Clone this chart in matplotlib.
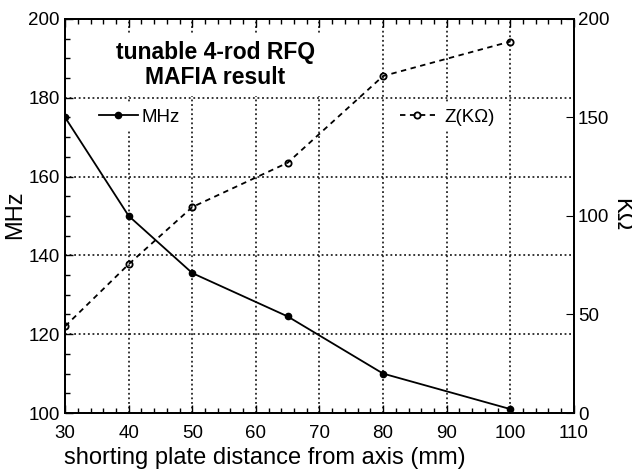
import numpy as np
import matplotlib
matplotlib.use('Agg')
import matplotlib.pyplot as plt
from matplotlib.ticker import MultipleLocator

plt.rcParams['font.family'] = ['Liberation Sans', 'DejaVu Sans']

distance = [30, 40, 50, 65, 80, 100]
freq_mhz = [175, 150, 135.5, 124.5, 110, 101]
z_kohm = [44, 75.5, 104.5, 127, 171, 188.5]

fig = plt.figure(figsize=(6.32, 4.72), dpi=100)
ax = fig.add_axes([0.103, 0.125, 0.805, 0.835])
ax2 = ax.twinx()

ax.plot(distance, freq_mhz, '-', color='black', lw=1.3,
        marker='o', ms=4.5, mfc='black', mec='black', label='MHz')
ax2.plot(distance, z_kohm, '--', color='black', lw=1.3, dashes=(3, 2.5),
         marker='o', ms=4.5, mfc='none', mec='black', mew=1.3, label='Z(KΩ)')

ax.set_xlim(30, 110)
ax.set_ylim(100, 200)
ax2.set_ylim(0, 200)
ax.xaxis.set_major_locator(MultipleLocator(10))
ax.xaxis.set_minor_locator(MultipleLocator(2))
ax.yaxis.set_major_locator(MultipleLocator(20))
ax.yaxis.set_minor_locator(MultipleLocator(5))
ax2.yaxis.set_major_locator(MultipleLocator(50))

ax.grid(True, which='major', linestyle=(0, (1.2, 1.8)), color='black', lw=1.1)
ax.tick_params(which='both', direction='in', top=True, labelsize=13.5)
ax.tick_params(which='major', length=6, width=1)
ax.tick_params(which='minor', length=3.5, width=1)
ax.tick_params(axis='x', pad=9)
ax.tick_params(axis='y', pad=4)
ax2.tick_params(which='major', direction='in', length=6, labelsize=13.5, pad=3)
for a in (ax, ax2):
    for s in a.spines.values():
        s.set_linewidth(1.3)

fig.text(265 / 632, 1 - 458 / 472, 'shorting plate distance from axis (mm)',
         fontsize=17, ha='center', va='center')
fig.text(15 / 632, 1 - 215 / 472, 'MHz', fontsize=17, rotation=90,
         ha='center', va='center')
fig.text(621 / 632, 1 - 215 / 472, 'KΩ', fontsize=17, rotation=-90,
         ha='center', va='center')

ax.text(0.295, 0.883, 'tunable 4-rod RFQ\nMAFIA result', transform=ax.transAxes,
        ha='center', va='center', fontsize=16.5, fontweight='bold', linespacing=1.15,
        bbox=dict(facecolor='white', edgecolor='none', pad=5), zorder=5)

leg1 = ax.legend(loc='center left', bbox_to_anchor=(0.057, 0.751), frameon=True,
                 fontsize=13.5, handlelength=2.1, handletextpad=0.2,
                 borderpad=0.25, borderaxespad=0, fancybox=False,
                 facecolor='white', edgecolor='none', framealpha=1)
leg2 = ax2.legend(loc='center left', bbox_to_anchor=(0.649, 0.751), frameon=True,
                  fontsize=13.5, handlelength=1.85, handletextpad=0.5,
                  borderpad=0.25, borderaxespad=0, fancybox=False,
                  facecolor='white', edgecolor='none', framealpha=1)

fig.savefig('out.png', dpi=100)
